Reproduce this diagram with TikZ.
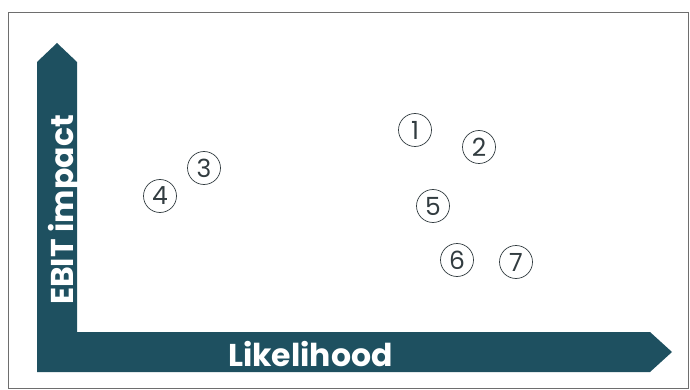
\documentclass[tikz,border=0pt]{standalone}
\usepackage{fontspec}
\newfontfamily\labfont{Poppins}
\definecolor{axisteal}{RGB}{30,80,96}
\definecolor{circgray}{RGB}{50,60,64}
\definecolor{framegray}{RGB}{110,110,110}
\begin{document}
\begin{tikzpicture}[x=1pt,y=-1pt,
  pt/.style={circle,draw=circgray,line width=0.7pt,minimum size=33pt,inner sep=0pt,
    text=circgray,font=\labfont\fontsize{25}{25}\selectfont},
  axlabel/.style={text=white,inner sep=0pt,font=\labfont\bfseries\fontsize{31.5}{31.5}\selectfont}]
\useasboundingbox (0,0) rectangle (690,390);
\draw[framegray,line width=1pt] (8,13) rectangle (688,388);
\fill[axisteal] (37,372) -- (37,62) -- (57,43) -- (77,62) -- (77,332) -- (650,332) -- (672,352) -- (650,372) -- cycle;
\node[axlabel,anchor=base west] (xl) at (228,366) {Likelihood};
\node[axlabel,anchor=base west,rotate=90] (yl) at (73,305) {EBIT impact};
\node[pt] (p1) at (415,130) {1};
\node[pt] (p2) at (479,147) {2};
\node[pt] (p3) at (204,168) {3};
\node[pt] (p4) at (160,196) {4};
\node[pt] (p5) at (433,206) {5};
\node[pt] (p6) at (457,260) {6};
\node[pt] (p7) at (516,262) {7};
\end{tikzpicture}
\end{document}
